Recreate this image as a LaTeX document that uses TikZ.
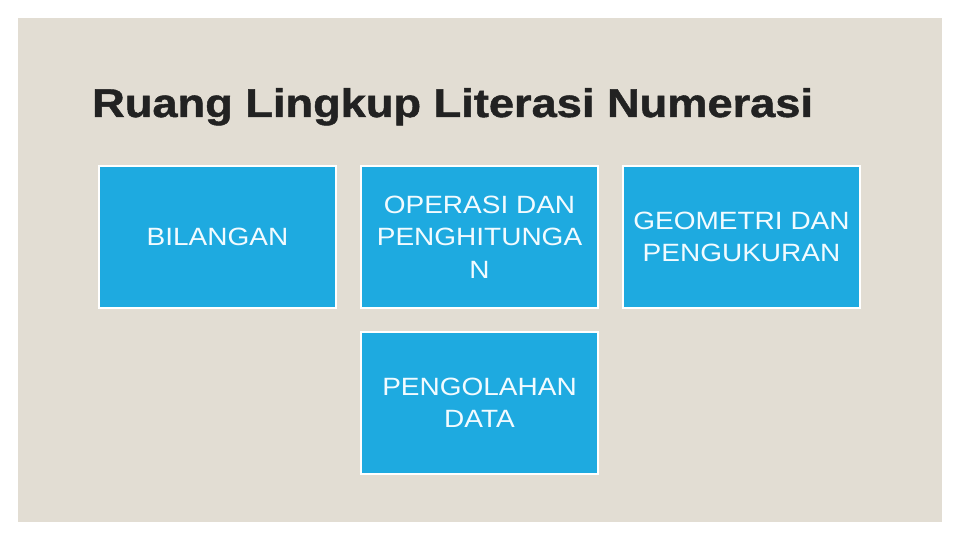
\documentclass[tikz,border=0pt]{standalone}
\usepackage{fontspec}
\setmainfont{Liberation Sans}
\newfontfamily\boxfont[FakeStretch=1.12]{Liberation Sans}
\newfontfamily\titlefont[FakeStretch=1.13,FakeBold=1.2]{Liberation Sans Bold}
\definecolor{panel}{HTML}{E2DDD3}
\definecolor{boxblue}{HTML}{1EAAE0}
\definecolor{titlec}{HTML}{222222}
\definecolor{boxtext}{HTML}{F2FBFF}
\begin{document}
\begin{tikzpicture}[x=1pt,y=-1pt,
  cardbox/.style={draw=white,line width=2pt,fill=boxblue,minimum width=237pt,minimum height=142pt,
    inner sep=0pt,text=boxtext,align=center,font=\boxfont\fontsize{25}{32.5}\selectfont},
  ]
\useasboundingbox (0,0) rectangle (960,540);
\fill[white] (0,0) rectangle (960,540);
\node[fill=panel,minimum width=924pt,minimum height=504pt,inner sep=0pt,anchor=north west] (panel) at (18,18) {};
\node[anchor=base west,inner sep=0pt,text=titlec,font=\titlefont\fontsize{40}{40}\selectfont] (title) at (92,117)
  {Ruang Lingkup Literasi Numerasi};
\node[cardbox] (bil) at (217.5,237) {BILANGAN};
\node[cardbox] (ops) at (479.5,237) {OPERASI DAN\\PENGHITUNGA\\N};
\node[cardbox] (geo) at (741.5,237) {GEOMETRI DAN\\PENGUKURAN};
\node[cardbox] (data) at (479.5,403) {PENGOLAHAN\\DATA};
\end{tikzpicture}
\end{document}
